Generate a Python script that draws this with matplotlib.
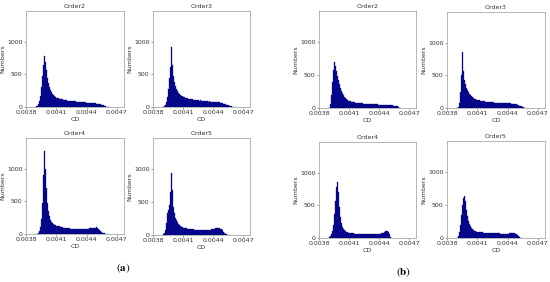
import numpy as np
import matplotlib
matplotlib.use("Agg")
import matplotlib.pyplot as plt

# histogram bins (left edges start at bin_start, fixed width)
bin_start = 0.00389
bin_width = 0.00001

titles = ["Order2", "Order3", "Order4", "Order5"]

# panel (a) counts
a_order2 = [3, 8, 20, 45, 90, 170, 300, 470, 640, 780,
            690, 560, 450, 370, 310, 260, 225, 200, 180, 165,
            155, 145, 140, 132, 128, 122, 118, 115, 110, 108,
            105, 100, 98, 95, 96, 92, 90, 88, 90, 86,
            84, 82, 80, 78, 80, 76, 74, 72, 74, 70,
            68, 66, 64, 66, 62, 60, 58, 60, 56, 54,
            52, 50, 48, 46, 42, 38, 32, 25, 18, 12,
            7, 4, 2, 1]
a_order3 = [2, 5, 12, 30, 70, 150, 280, 450, 620, 920,
            650, 480, 390, 320, 280, 245, 220, 200, 185, 175,
            165, 158, 150, 145, 140, 135, 130, 126, 122, 118,
            115, 112, 108, 110, 105, 102, 100, 98, 100, 95,
            93, 92, 90, 88, 90, 86, 84, 85, 82, 80,
            80, 78, 80, 76, 78, 75, 72, 70, 66, 60,
            55, 50, 45, 40, 35, 30, 24, 18, 13, 9,
            6, 4, 2, 1]
a_order4 = [0, 2, 6, 15, 40, 100, 230, 480, 900, 1270,
            1000, 700, 480, 350, 270, 220, 190, 170, 155, 145,
            138, 130, 125, 120, 115, 110, 105, 100, 98, 95,
            92, 90, 88, 86, 85, 84, 82, 80, 80, 78,
            78, 76, 78, 76, 75, 78, 76, 78, 80, 80,
            82, 82, 84, 86, 85, 88, 90, 92, 95, 98,
            100, 96, 80, 60, 42, 30, 20, 14, 9, 5,
            3, 2, 1]
a_order5 = [2, 8, 25, 70, 180, 330, 380, 450, 650, 940,
            680, 420, 330, 260, 220, 190, 170, 150, 135, 125,
            118, 112, 108, 105, 100, 98, 95, 92, 90, 88,
            86, 84, 82, 80, 78, 78, 76, 75, 74, 72,
            72, 70, 72, 74, 75, 76, 78, 80, 82, 84,
            88, 92, 96, 100, 110, 105, 108, 100, 95, 85,
            70, 50, 30, 15, 8, 4, 2, 1]

# panel (b) counts
b_order2 = [0, 5, 60, 200, 400, 580, 690, 640, 560, 480,
            420, 360, 310, 265, 225, 195, 170, 150, 135, 122,
            112, 105, 100, 96, 92, 88, 85, 82, 80, 78,
            76, 74, 72, 70, 70, 68, 66, 66, 64, 62,
            62, 60, 60, 58, 58, 56, 56, 55, 54, 54,
            52, 52, 50, 50, 48, 48, 46, 46, 44, 44,
            42, 42, 40, 40, 38, 36, 34, 32, 30, 25,
            12, 3, 1]
b_order3 = [0, 3, 20, 80, 250, 500, 850, 560, 430, 360,
            310, 270, 240, 215, 195, 180, 165, 155, 145, 138,
            130, 125, 120, 116, 112, 108, 105, 102, 100, 98,
            96, 94, 92, 90, 90, 88, 86, 86, 84, 84,
            82, 82, 80, 80, 78, 78, 76, 76, 74, 74,
            72, 72, 70, 70, 68, 66, 64, 62, 58, 54,
            48, 42, 36, 30, 24, 18, 12, 6, 3, 1]
b_order4 = [2, 10, 30, 60, 110, 200, 360, 560, 780, 850,
            700, 480, 320, 230, 170, 135, 115, 100, 92, 86,
            82, 78, 76, 74, 72, 70, 68, 66, 65, 64,
            62, 62, 60, 60, 58, 58, 56, 56, 55, 55,
            54, 54, 54, 55, 55, 56, 56, 58, 58, 60,
            62, 64, 66, 70, 75, 82, 92, 100, 105, 100,
            90, 60, 20, 4, 1]
b_order5 = [0, 5, 30, 90, 200, 350, 500, 610, 640, 560,
            430, 330, 260, 210, 175, 150, 130, 118, 108, 100,
            95, 92, 90, 88, 86, 85, 84, 82, 82, 80,
            80, 78, 78, 76, 76, 75, 74, 74, 72, 72,
            70, 70, 70, 68, 68, 68, 66, 66, 66, 66,
            68, 68, 70, 70, 72, 74, 75, 72, 68, 60,
            45, 25, 10, 3, 1]

x_ticks = [0.0038, 0.0041, 0.0044, 0.0047]
x_tick_labels = ["0.0038", "0.0041", "0.0044", "0.0047"]
y_ticks = [0, 500, 1000]

# axes boxes in pixels: (left, right, top, bottom)
boxes = [
    (a_order2, "Order2", (26, 124, 11, 107)),
    (a_order3, "Order3", (153, 250, 11, 107)),
    (a_order4, "Order4", (26, 124, 138, 234)),
    (a_order5, "Order5", (153, 250, 138, 235)),
    (b_order2, "Order2", (319, 416, 11, 108)),
    (b_order3, "Order3", (447, 545, 12, 108)),
    (b_order4, "Order4", (319, 416, 142, 238)),
    (b_order5, "Order5", (447, 545, 141, 238)),
]

W, H = 550, 282
fig = plt.figure(figsize=(W / 100, H / 100), dpi=100)

fs = 4.5
for counts, title, (l, r, t, b) in boxes:
    ax = fig.add_axes([l / W, 1 - b / H, (r - l) / W, (b - t) / H])
    edges = bin_start + bin_width * np.arange(len(counts))
    ax.bar(edges, counts, width=bin_width, align="edge",
           color="#0a0aa8", edgecolor="#000060", linewidth=0.2)
    ax.set_xlim(0.0038, 0.00477)
    ax.set_ylim(0, 1470)
    ax.set_xticks(x_ticks)
    ax.set_xticklabels(x_tick_labels)
    ax.set_yticks(y_ticks)
    ax.tick_params(labelsize=fs, length=1.5, width=0.4, pad=1,
                   color="#555555", labelcolor="#333333")
    for s in ax.spines.values():
        s.set_color("#aaaaaa")
        s.set_linewidth(0.6)
    ax.set_title(title, fontsize=fs, pad=2, color="#333333")
    ax.set_xlabel("CD", fontsize=fs, labelpad=1, color="#333333")
    ax.set_ylabel("Numbers", fontsize=fs, labelpad=1, color="#333333")

plt.rcParams["mathtext.fontset"] = "stix"
fig.text(123 / W, 1 - 268 / H, r"$(\mathbf{a})$", fontsize=8,
         ha="center", va="center")
fig.text(404 / W, 1 - 272 / H, r"$(\mathbf{b})$", fontsize=8,
         ha="center", va="center")

fig.savefig("out.png", dpi=100)
